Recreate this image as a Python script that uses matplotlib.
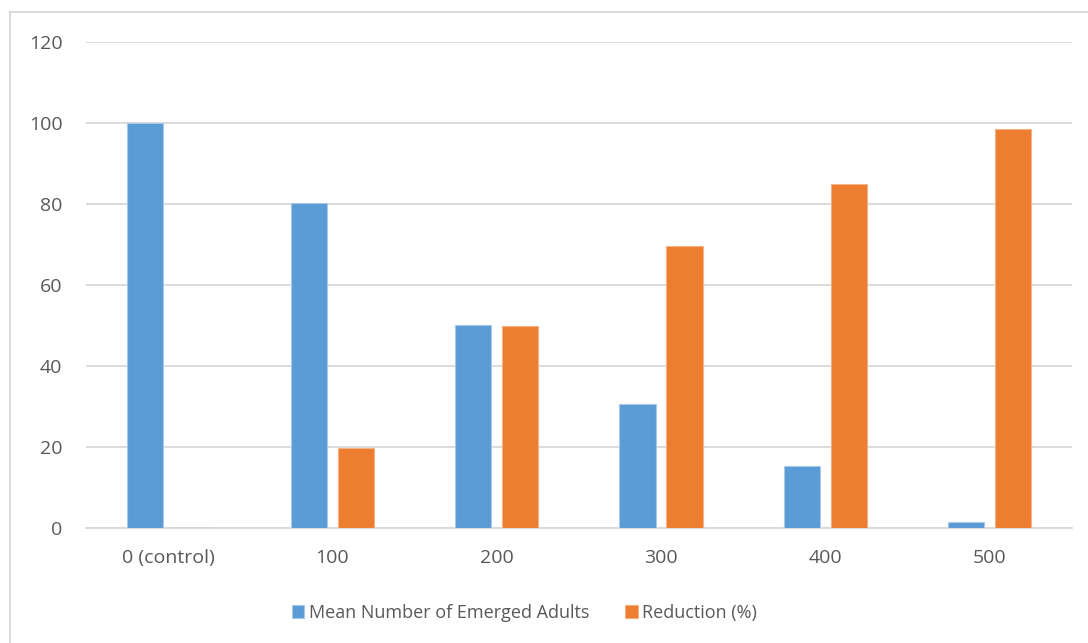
import matplotlib.pyplot as plt
from matplotlib.lines import Line2D
import numpy as np

plt.rcParams['font.family'] = ['Open Sans', 'DejaVu Sans']

categories = ['0 (control)', '100', '200', '300', '400', '500']
emerged_adults = [100, 80.2, 50.1, 30.5, 15.2, 1.5]
reduction = [0, 19.8, 49.9, 69.5, 84.8, 98.5]
series_names = ['Mean Number of Emerged Adults', 'Reduction (%)']

blue = '#5B9BD5'
orange = '#ED7D31'
text_col = '#595959'
grid_col = '#D9D9D9'

fig = plt.figure(figsize=(10.88, 6.43), dpi=100)
ax = fig.add_axes([0.079, 0.179, 0.906, 0.756])

x = np.arange(len(categories))
w = 0.22
off = 0.143
ax.bar(x - off, emerged_adults, w, color=blue, edgecolor='#A9C8E8', linewidth=0.8,
       label=series_names[0], zorder=3)
ax.bar(x + off, reduction, w, color=orange, edgecolor='#F4B183', linewidth=0.8,
       label=series_names[1], zorder=3)

ax.set_xlim(-0.5, len(categories) - 0.5)
ax.set_ylim(0, 120)
ax.set_yticks(range(0, 121, 20))
ax.set_xticks(x)
ax.set_xticklabels(categories)
ax.yaxis.grid(True, color=grid_col, linewidth=1.3, zorder=0)
ax.set_axisbelow(True)
for s in ['top', 'right', 'left']:
    ax.spines[s].set_visible(False)
ax.spines['bottom'].set_color(grid_col)
ax.spines['bottom'].set_linewidth(1.3)
ax.tick_params(axis='both', length=0, labelsize=14, colors=text_col)
ax.tick_params(axis='y', pad=17)
ax.tick_params(axis='x', pad=15)

leg = fig.legend(loc='center', bbox_to_anchor=(0.482, 0.047), ncol=2, frameon=False,
                 fontsize=13, handlelength=0.7, handleheight=0.7, handletextpad=0.25,
                 columnspacing=2.0)
for t in leg.get_texts():
    t.set_color(text_col)

# outer chart frame (left and top edges)
fig.add_artist(Line2D([10 / 1088, 10 / 1088], [0, 1 - 12 / 643], transform=fig.transFigure,
                      color=grid_col, linewidth=1.3))
fig.add_artist(Line2D([10 / 1088, 1], [1 - 12 / 643, 1 - 12 / 643], transform=fig.transFigure,
                      color=grid_col, linewidth=1.3))

fig.savefig('out.png', dpi=100)
